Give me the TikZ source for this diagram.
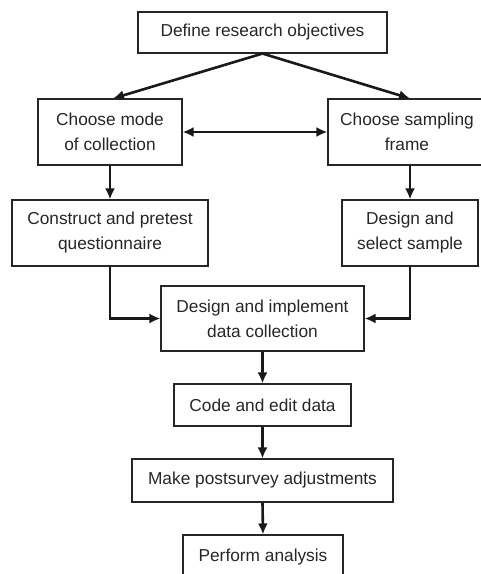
\documentclass[tikz,border=0pt]{standalone}
\usepackage{fontspec}
\setmainfont{Liberation Sans}
\usetikzlibrary{arrows.meta}
\begin{document}
\begin{tikzpicture}[x=1pt,y=-1pt,
  box/.style={draw=black!85, line width=1.1pt, rectangle, align=center, inner sep=0pt,
    font=\fontsize{17.3}{25}\selectfont, text=black!85},
  arr/.style={line width=2.6pt, draw=black!90, -{Latex[length=11pt,width=10pt]}},
  darr/.style={line width=2.6pt, draw=black!90, {Latex[length=11pt,width=10pt]}-{Latex[length=11pt,width=10pt]}}]
\useasboundingbox (0,0) rectangle (481,574);
\node[box, minimum width=249pt, minimum height=41pt] (def) at (262.5,32.5) {Define research objectives};
\node[box, minimum width=144pt, minimum height=66pt] (mode) at (110,132) {Choose mode\\of collection};
\node[box, minimum width=158pt, minimum height=66pt] (frame) at (407,132) {Choose sampling\\frame};
\node[box, minimum width=196pt, minimum height=66pt] (cons) at (110,233) {Construct and pretest\\questionnaire};
\node[box, minimum width=136pt, minimum height=66pt] (samp) at (410,233) {Design and\\select sample};
\node[box, minimum width=203pt, minimum height=65pt] (impl) at (262.5,318.5) {Design and implement\\data collection};
\node[box, minimum width=177pt, minimum height=42pt] (code) at (262.5,405) {Code and edit data};
\node[box, minimum width=261pt, minimum height=43pt] (make) at (262.5,480.5) {Make postsurvey adjustments};
\node[box, minimum width=160pt, minimum height=44pt] (perf) at (263,557) {Perform analysis};
\draw[arr] (def.south) -- ([xshift=3pt]mode.north);
\draw[arr] (def.south) -- (mode.north -| samp.north);
\draw[darr] (mode.east) -- (frame.west);
\draw[arr] (mode.south) -- (cons.north);
\draw[arr] (samp.north |- frame.south) -- (samp.north);
\draw[arr] (cons.south) |- (impl.west);
\draw[arr] (samp.south) |- (impl.east);
\draw[arr] (impl.south) -- (code.north);
\draw[arr] (code.south) -- (make.north);
\draw[arr] (make.south) -- (perf.north);
\end{tikzpicture}
\end{document}
